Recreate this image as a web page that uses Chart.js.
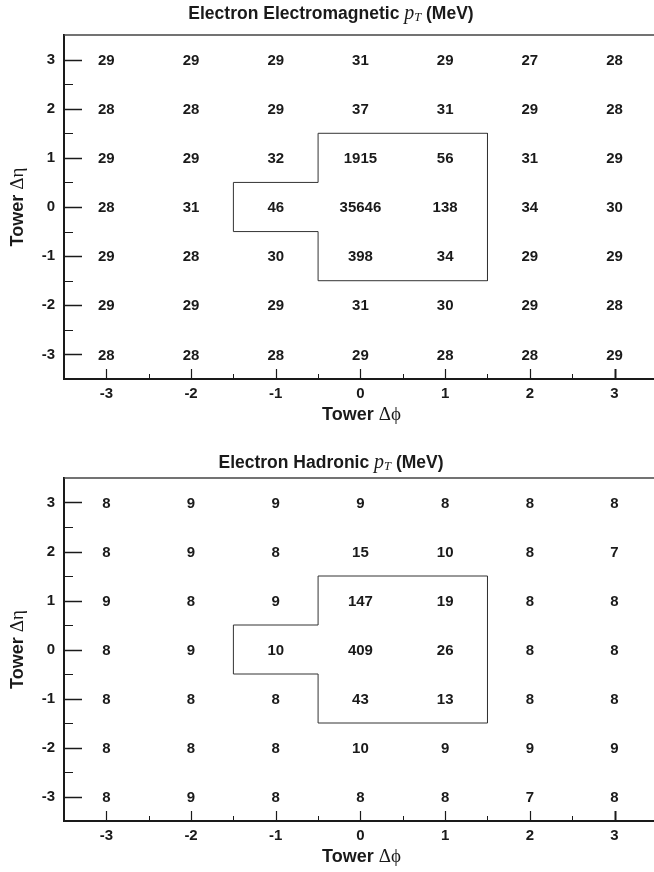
<!DOCTYPE html>
<html>
<head>
<meta charset="utf-8">
<script src="https://cdn.jsdelivr.net/npm/chart.js@4/dist/chart.umd.min.js"></script>
<style>
  html, body { margin: 0; padding: 0; background: #fff; }
  .panel { position: absolute; left: 0; width: 654px; height: 436px; }
</style>
</head>
<body>
<div class="panel" style="top:0"><canvas id="chartEm" width="654" height="436"></canvas></div>
<div class="panel" style="top:436px"><canvas id="chartHad" width="654" height="436"></canvas></div>
<script>
// tower offsets
const phiTicks = [-3, -2, -1, 0, 1, 2, 3];
const etaTicks = [3, 2, 1, 0, -1, -2, -3];

// rows go from eta = 3 (top) down to eta = -3, columns phi = -3 .. 3
const emPt = [
  [29, 29, 29, 31, 29, 27, 28],
  [28, 28, 29, 37, 31, 29, 28],
  [29, 29, 32, 1915, 56, 31, 29],
  [28, 31, 46, 35646, 138, 34, 30],
  [29, 28, 30, 398, 34, 29, 29],
  [29, 29, 29, 31, 30, 29, 28],
  [28, 28, 28, 29, 28, 28, 29],
];
const hadPt = [
  [8, 9, 9, 9, 8, 8, 8],
  [8, 9, 8, 15, 10, 8, 7],
  [9, 8, 9, 147, 19, 8, 8],
  [8, 9, 10, 409, 26, 8, 8],
  [8, 8, 8, 43, 13, 8, 8],
  [8, 8, 8, 10, 9, 9, 9],
  [8, 9, 8, 8, 8, 7, 8],
];

// outline of the electron cluster towers
const boxPhi = [-0.5, 1.5, 1.5, -0.5, -0.5, -1.5, -1.5, -0.5, -0.5];
const boxEta = [1.5, 1.5, -1.5, -1.5, -0.5, -0.5, 0.5, 0.5, 1.5];

const SANS = "'Liberation Sans', Arial, sans-serif";
const SERIF = "'Liberation Serif', 'Times New Roman', serif";
const INK = "#1a1a1a";

const drawRich = (ctx, parts, cx, cy) => {
  let total = 0;
  parts.forEach((p) => {
    ctx.font = p.font;
    p.w = ctx.measureText(p.text).width;
    total += p.w;
  });
  let x = cx - total / 2;
  ctx.textBaseline = "middle";
  ctx.textAlign = "left";
  parts.forEach((p) => {
    ctx.font = p.font;
    ctx.fillText(p.text, x, cy + (p.dy || 0));
    x += p.w;
  });
};

const towerPlugin = {
  id: "towerPlugin",
  afterDraw(chart) {
    const ctx = chart.ctx;
    const area = chart.chartArea;
    const xs = chart.scales.x;
    const ys = chart.scales.y;
    const o = chart.options.plugins.towerPlugin;
    ctx.save();

    // top frame line
    ctx.strokeStyle = "#444";
    ctx.lineWidth = 1.5;
    ctx.beginPath();
    ctx.moveTo(area.left, area.top);
    ctx.lineTo(area.right, area.top);
    ctx.stroke();

    // tick marks pointing into the plot
    ctx.strokeStyle = INK;
    etaTicks.forEach((v) => {
      const y = Math.round(ys.getPixelForValue(v)) + 0.5;
      ctx.lineWidth = 1.5;
      ctx.beginPath();
      ctx.moveTo(area.left, y);
      ctx.lineTo(area.left + 18, y);
      ctx.stroke();
      if (v > -3) {
        const ym = Math.round(ys.getPixelForValue(v - 0.5)) + 0.5;
        ctx.lineWidth = 1;
        ctx.beginPath();
        ctx.moveTo(area.left, ym);
        ctx.lineTo(area.left + 9, ym);
        ctx.stroke();
      }
    });
    phiTicks.forEach((v) => {
      const x = Math.round(xs.getPixelForValue(v)) + 0.5;
      ctx.lineWidth = v === 3 ? 2 : 1.2;
      ctx.beginPath();
      ctx.moveTo(x, area.bottom);
      ctx.lineTo(x, area.bottom - 10);
      ctx.stroke();
      if (v < 3) {
        const xm = Math.round(xs.getPixelForValue(v + 0.5)) + 0.5;
        ctx.lineWidth = 1;
        ctx.beginPath();
        ctx.moveTo(xm, area.bottom);
        ctx.lineTo(xm, area.bottom - 5);
        ctx.stroke();
      }
    });

    // cell contents, placed at the points of the cell dataset
    ctx.fillStyle = INK;
    ctx.font = "bold 15px " + SANS;
    ctx.textAlign = "center";
    ctx.textBaseline = "middle";
    const meta = chart.getDatasetMeta(1);
    const cells = chart.data.datasets[1].data;
    meta.data.forEach((pt, i) => {
      ctx.fillText(String(cells[i].v), pt.x, pt.y + 1);
    });

    // titles
    drawRich(ctx, [
      { text: o.title + " ", font: "bold 17.5px " + SANS },
      { text: "p", font: "italic 20px " + SERIF },
      { text: "T", font: "italic 12.5px " + SERIF, dy: 4 },
      { text: " (MeV)", font: "bold 17.5px " + SANS },
    ], 331, o.titleY);

    drawRich(ctx, [
      { text: "Tower ", font: "bold 18px " + SANS },
      { text: "\u0394\u03D5", font: "19px " + SERIF },
    ], (area.left + xs.getPixelForValue(3.5)) / 2 + 1, area.bottom + 36);

    ctx.save();
    ctx.translate(18, (area.top + area.bottom) / 2);
    ctx.rotate(-Math.PI / 2);
    drawRich(ctx, [
      { text: "Tower ", font: "bold 18px " + SANS },
      { text: "\u0394\u03B7", font: "19px " + SERIF },
    ], 0, 0);
    ctx.restore();

    ctx.restore();
  },
};

const makeChart = (canvasId, values, title, padTop, xHeight, titleY) => {
  const cells = [];
  etaTicks.forEach((eta, r) => {
    phiTicks.forEach((phi, c) => {
      cells.push({ x: phi, y: eta, v: values[r][c] });
    });
  });
  const box = boxPhi.map((x, i) => ({ x: x, y: boxEta[i] }));

  return new Chart(document.getElementById(canvasId), {
    type: "scatter",
    data: {
      datasets: [
        {
          label: "cluster",
          data: box,
          showLine: true,
          borderColor: "#333",
          borderWidth: 1,
          pointRadius: 0,
          fill: false,
        },
        {
          label: "cells",
          data: cells,
          pointRadius: 0,
          pointHoverRadius: 0,
        },
      ],
    },
    options: {
      responsive: false,
      animation: false,
      events: [],
      layout: { padding: { top: padTop, left: 0, right: 0, bottom: 0 } },
      scales: {
        x: {
          type: "linear",
          min: -3.5,
          max: 3.466,
          afterBuildTicks: (s) => {
            s.ticks = phiTicks.map((v) => ({ value: v }));
          },
          afterFit: (s) => {
            s.height = xHeight;
          },
          grid: { display: false, drawTicks: false },
          border: { display: true, color: INK, width: 2 },
          ticks: {
            padding: 6,
            color: INK,
            font: { family: SANS, weight: "bold", size: 15 },
          },
        },
        y: {
          type: "linear",
          min: -3.5,
          max: 3.5,
          afterBuildTicks: (s) => {
            s.ticks = etaTicks.map((v) => ({ value: v }));
          },
          afterFit: (s) => {
            s.width = 64;
          },
          grid: { display: false, drawTicks: false },
          border: { display: true, color: INK, width: 2 },
          ticks: {
            padding: 9,
            color: INK,
            font: { family: SANS, weight: "bold", size: 15 },
          },
        },
      },
      plugins: {
        legend: { display: false },
        tooltip: { enabled: false },
        title: { display: false },
        towerPlugin: { title: title, titleY: titleY },
      },
    },
    plugins: [towerPlugin],
  });
};

makeChart("chartEm", emPt, "Electron Electromagnetic", 35, 57, 14);
makeChart("chartHad", hadPt, "Electron Hadronic", 42, 51, 27);
</script>
</body>
</html>
